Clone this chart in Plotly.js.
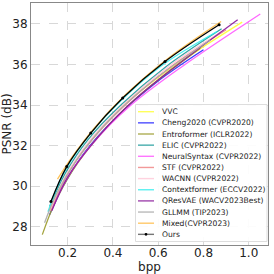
<!DOCTYPE html>
<html><head><meta charset="utf-8">
<script src="https://cdn.plot.ly/plotly-3.0.1.min.js"></script>
<style>html,body{margin:0;padding:0;background:#fff}#chart{width:274px;height:274px}</style>
</head><body><div id="chart"></div>
<script>
const names = ["VVC","Cheng2020 (CVPR2020)","Entroformer (ICLR2022)","ELIC (CVPR2022)","NeuralSyntax (CVPR2022)","STF (CVPR2022)","WACNN (CVPR2022)","Contextformer (ECCV2022)","QResVAE (WACV2023Best)","GLLMM (TIP2023)","Mixed(CVPR2023)","Ours"];
const colors = ["#ffff33","#2222ff","#9a9a2a","#1a9a9a","#ff55ff","#f08080","#ffc8d8","#33eeee","#8a1a9a","#aaaaaa","#ffbb44","#000000"];

const bppVVC = [0.12, 0.19, 0.29, 0.43, 0.63, 0.971];
const psnrVVC = [28.85, 30.45, 32.05, 33.8, 35.6, 38.08];
const bppCheng = [0.12, 0.18, 0.27, 0.41, 0.59, 0.80];
const psnrCheng = [28.6, 30.0, 31.6, 33.35, 35.1, 36.72];
const bppEntro = [0.088, 0.14, 0.22, 0.34, 0.52, 0.786];
const psnrEntro = [27.62, 29.1, 30.75, 32.5, 34.5, 36.8];
const bppELIC = [0.12, 0.19, 0.29, 0.44, 0.63, 0.88];
const psnrELIC = [29.0, 30.65, 32.3, 34.05, 35.85, 37.75];
const bppNS = [0.13, 0.2, 0.31, 0.47, 0.7, 1.051];
const psnrNS = [28.85, 30.45, 32.1, 33.9, 35.85, 38.48];
const bppSTF = [0.125, 0.19, 0.29, 0.44, 0.64, 0.9];
const psnrSTF = [28.8, 30.4, 32.05, 33.85, 35.75, 37.7];
const bppWACNN = [0.125, 0.19, 0.29, 0.44, 0.64, 0.9];
const psnrWACNN = [28.9, 30.5, 32.15, 33.95, 35.85, 37.75];
const bppCtx = [0.113, 0.18, 0.28, 0.42, 0.61, 0.86];
const psnrCtx = [28.75, 30.6, 32.3, 34.05, 35.9, 37.62];
const bppQRes = [0.13, 0.2, 0.31, 0.46, 0.67, 0.951];
const psnrQRes = [28.8, 30.45, 32.1, 33.9, 35.85, 38.2];
const bppGLLMM = [0.098, 0.15, 0.24, 0.37, 0.56, 0.83];
const psnrGLLMM = [28.2, 29.6, 31.3, 33.1, 35.05, 37.2];
const bppMixed = [0.155, 0.22, 0.32, 0.46, 0.65, 0.878];
const psnrMixed = [30.35, 31.45, 32.9, 34.55, 36.35, 38.11];
const bppOurs = [0.126, 0.196, 0.302, 0.443, 0.630, 0.869];
const psnrOurs = [29.25, 30.97, 32.62, 34.34, 36.14, 37.95];

const xs = [bppVVC,bppCheng,bppEntro,bppELIC,bppNS,bppSTF,bppWACNN,bppCtx,bppQRes,bppGLLMM,bppMixed,bppOurs];
const ys = [psnrVVC,psnrCheng,psnrEntro,psnrELIC,psnrNS,psnrSTF,psnrWACNN,psnrCtx,psnrQRes,psnrGLLMM,psnrMixed,psnrOurs];

const traces = names.map((n,i)=>({
  x: xs[i], y: ys[i], name: n, type:'scatter',
  mode: i===11 ? 'lines+markers' : 'lines',
  line: {color: colors[i], width: 1.3, shape:'spline'},
  marker: {color:'#000', size: 3},
  opacity: i===11 ? 1 : 0.9,
  showlegend:false
}));

// custom legend (Plotly's own legend rows are too tall for this size)
const L = 31, R = 268, T = 3, B = 245;
const px = v => (v - L) / (R - L);
const py = v => (B - v) / (B - T);
const shapes = [{type:'rect', xref:'paper', yref:'paper', x0:px(135.5), x1:px(267), y0:py(241.5), y1:py(104.5),
  fillcolor:'rgba(255,255,255,0.92)', line:{color:'#dddddd', width:1}, layer:'above'}];
const annotations = [];
names.forEach((n,i)=>{
  const yy = 111.7 + i*11.15;
  shapes.push({type:'line', xref:'paper', yref:'paper', x0:px(138), x1:px(154), y0:py(yy), y1:py(yy),
    line:{color: i===11 ? '#555' : colors[i], width:1.4}, opacity:0.8, layer:'above'});
  if (i===11) shapes.push({type:'circle', xref:'paper', yref:'paper', x0:px(144.6), x1:px(147.4), y0:py(yy+1.4), y1:py(yy-1.4),
    fillcolor:'#000', line:{width:0}, layer:'above'});
  annotations.push({xref:'paper', yref:'paper', x:px(159.5), y:py(yy), xanchor:'left', yanchor:'middle',
    text:n, showarrow:false, font:{family:'DejaVu Sans', size:7.6, color:'#222'}});
});

const axisCommon = {
  showgrid:true, gridcolor:'#d8d8d8', griddash:'dash', gridwidth:1,
  showline:true, linecolor:'#888', linewidth:1, mirror:true,
  zeroline:false, ticks:'', tickfont:{family:'DejaVu Sans', size:12, color:'#222'}
};

const layout = {
  width:274, height:274,
  margin:{l:31, r:6, t:3, b:29},
  paper_bgcolor:'#fff', plot_bgcolor:'#fff',
  showlegend:false,
  xaxis: Object.assign({}, axisCommon, {range:[0.038,1.085], tickvals:[0.2,0.4,0.6,0.8,1.0], ticktext:['0.2','0.4','0.6','0.8','1.0'],
    ticklabelstandoff:-3,
    title:{text:'bpp', font:{family:'DejaVu Sans', size:12, color:'#222'}, standoff:1}}),
  yaxis: Object.assign({}, axisCommon, {range:[27.11,39.02], tickvals:[28,30,32,34,36,38],
    title:{text:'PSNR (dB)', font:{family:'DejaVu Sans', size:12, color:'#222'}, standoff:3}}),
  shapes: shapes,
  annotations: annotations
};

Plotly.newPlot('chart', traces, layout, {displayModeBar:false, staticPlot:true});
</script></body></html>
